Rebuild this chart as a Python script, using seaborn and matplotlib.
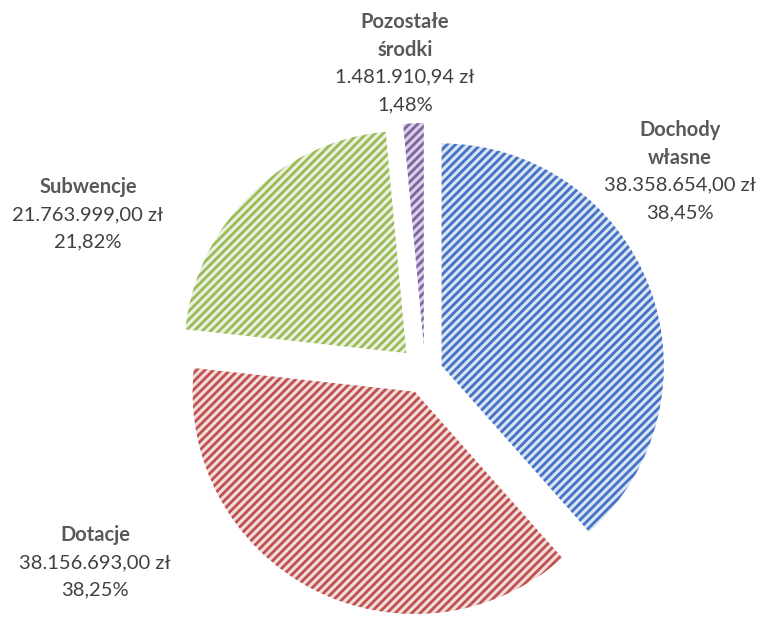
import matplotlib.pyplot as plt
import seaborn as sns

# data
categories = ["Dochody\nwłasne", "Dotacje", "Subwencje", "Pozostałe\nśrodki"]
amounts = ["38.358.654,00 zł", "38.156.693,00 zł", "21.763.999,00 zł", "1.481.910,94 zł"]
shares = [38.45, 38.25, 21.82, 1.48]

dark = ["#4472C4", "#C0504D", "#9BBB59", "#8064A2"]
light = ["#DAE3F3", "#F2DCDB", "#EBF1DE", "#D9D1E6"]

W, H = 759, 622
# label anchors: (x center px, y of first line px from top)
label_pos = [(680, 130), (95, 535), (88, 187), (405, 22)]
line_step = 27.5

sns.set_theme(style="white")
plt.rcParams["font.family"] = ["Lato", "DejaVu Sans"]
plt.rcParams["hatch.linewidth"] = 2.0

fig = plt.figure(figsize=(W / 100, H / 100), dpi=100)
size = 600
cx, cy = 425, 372
ax = fig.add_axes([(cx - size / 2) / W, (H - cy - size / 2) / H, size / W, size / H])

wedges, _ = ax.pie(
    shares,
    startangle=90,
    counterclock=False,
    explode=[0.08, 0.1, 0.12, 0.12],
    radius=1.0,
    wedgeprops=dict(linewidth=0),
)
for w, d, l in zip(wedges, dark, light):
    w.set_facecolor(l)
    w.set_edgecolor(d)
    w.set_linewidth(0)
    w.set_hatch("////")
ax.set_xlim(-1.35, 1.35)
ax.set_ylim(-1.35, 1.35)
ax.set_aspect("equal")
ax.axis("off")

for name, amt, pct, (x, y) in zip(categories, amounts, shares, label_pos):
    pct_txt = f"{pct:.2f}".replace(".", ",") + "%"
    lines = [(t, True) for t in name.split("\n")] + [(amt, False), (pct_txt, False)]
    for i, (t, bold) in enumerate(lines):
        fig.text(x / W, 1 - (y + i * line_step) / H, t, ha="center", va="center",
                 fontsize=14.5, fontweight="bold" if bold else "normal",
                 color="#595959" if bold else "#404040")

fig.savefig("out.png", dpi=100)
